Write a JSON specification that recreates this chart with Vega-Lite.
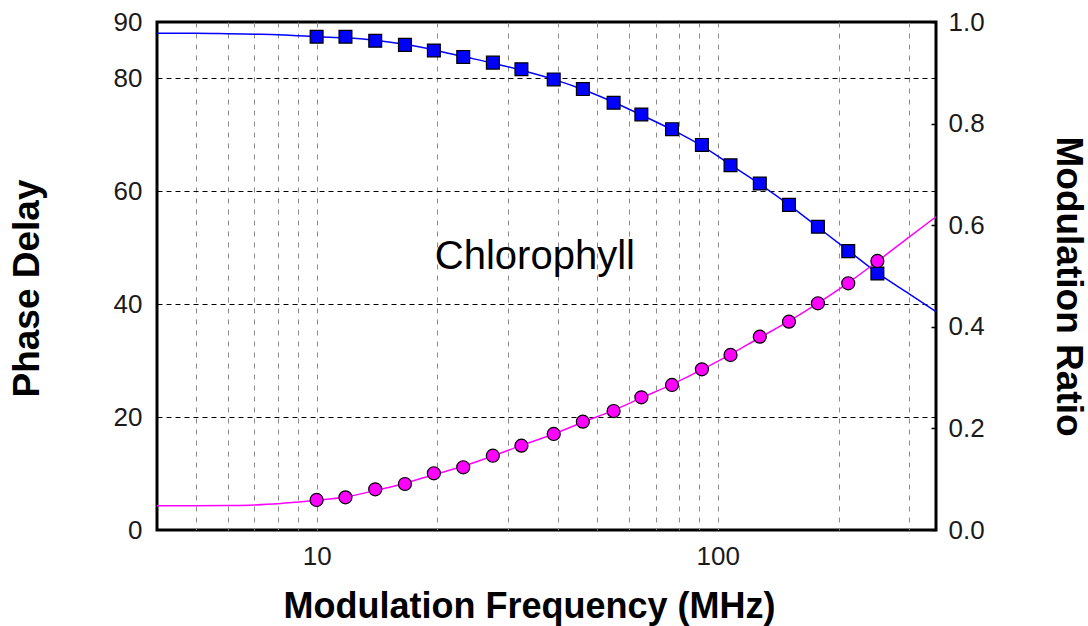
{
  "$schema": "https://vega.github.io/schema/vega-lite/v6.json",
  "width": 779,
  "height": 508,
  "autosize": {"type": "none"},
  "padding": {"left": 157, "top": 22, "right": 152, "bottom": 96},
  "background": "white",
  "config": {
    "view": {"stroke": "black", "strokeWidth": 3},
    "font": "Liberation Sans"
  },
  "datasets": {
    "points": [
      {"f": 10.0, "phase": 5.32, "mod": 0.971},
      {"f": 11.8, "phase": 5.79, "mod": 0.971},
      {"f": 14.0, "phase": 7.21, "mod": 0.963},
      {"f": 16.6, "phase": 8.15, "mod": 0.955},
      {"f": 19.6, "phase": 10.05, "mod": 0.944},
      {"f": 23.2, "phase": 11.11, "mod": 0.931},
      {"f": 27.5, "phase": 13.16, "mod": 0.920},
      {"f": 32.4, "phase": 14.94, "mod": 0.907},
      {"f": 39.0, "phase": 17.01, "mod": 0.887},
      {"f": 46.1, "phase": 19.19, "mod": 0.868},
      {"f": 55.0, "phase": 21.08, "mod": 0.841},
      {"f": 64.5, "phase": 23.51, "mod": 0.818},
      {"f": 76.9, "phase": 25.69, "mod": 0.789},
      {"f": 91.3, "phase": 28.47, "mod": 0.758},
      {"f": 107.6, "phase": 31.01, "mod": 0.718},
      {"f": 127.3, "phase": 34.25, "mod": 0.682},
      {"f": 150.5, "phase": 36.91, "mod": 0.640},
      {"f": 177.7, "phase": 40.17, "mod": 0.597},
      {"f": 211.5, "phase": 43.71, "mod": 0.549},
      {"f": 250.0, "phase": 47.66, "mod": 0.505}
    ],
    "fit": [
      {"f": 4.0, "phase": 4.3, "mod": 0.978},
      {"f": 5.0, "phase": 4.3, "mod": 0.978},
      {"f": 6.0, "phase": 4.35, "mod": 0.977},
      {"f": 7.0, "phase": 4.45, "mod": 0.976},
      {"f": 8.0, "phase": 4.65, "mod": 0.975},
      {"f": 9.0, "phase": 4.95, "mod": 0.973},
      {"f": 10.0, "phase": 5.25, "mod": 0.971},
      {"f": 11.8, "phase": 5.85, "mod": 0.969},
      {"f": 14.0, "phase": 7.0, "mod": 0.964},
      {"f": 16.6, "phase": 8.3, "mod": 0.956},
      {"f": 19.6, "phase": 9.8, "mod": 0.945},
      {"f": 23.2, "phase": 11.3, "mod": 0.932},
      {"f": 27.5, "phase": 13.1, "mod": 0.919},
      {"f": 32.4, "phase": 15.0, "mod": 0.905},
      {"f": 39.0, "phase": 17.0, "mod": 0.887},
      {"f": 46.1, "phase": 19.1, "mod": 0.867},
      {"f": 55.0, "phase": 21.2, "mod": 0.842},
      {"f": 64.5, "phase": 23.4, "mod": 0.817},
      {"f": 76.9, "phase": 25.8, "mod": 0.788},
      {"f": 91.3, "phase": 28.4, "mod": 0.756},
      {"f": 107.6, "phase": 31.1, "mod": 0.719},
      {"f": 127.3, "phase": 34.1, "mod": 0.681},
      {"f": 150.5, "phase": 37.0, "mod": 0.640},
      {"f": 177.7, "phase": 40.2, "mod": 0.596},
      {"f": 211.5, "phase": 43.8, "mod": 0.550},
      {"f": 250.0, "phase": 47.6, "mod": 0.506},
      {"f": 300.0, "phase": 51.9, "mod": 0.465},
      {"f": 350.0, "phase": 55.5, "mod": 0.430}
    ],
    "labels": [
      {"label": "Chlorophyll", "f": 35, "phase": 46.2}
    ]
  },
  "layer": [
    {
      "encoding": {
        "x": {
          "field": "f",
          "type": "quantitative",
          "scale": {"type": "log", "domain": [4, 350], "nice": false},
          "axis": {
            "values": [5, 6, 7, 8, 9, 10, 20, 30, 40, 50, 60, 70, 80, 90, 100, 200, 300],
            "labelExpr": "(datum.value == 10 || datum.value == 100) ? datum.label : ''",
            "format": "d",
            "labelOverlap": false,
            "labelFlush": false,
            "grid": true,
            "gridColor": "#8a8a8a",
            "gridDash": [5, 6],
            "gridWidth": 1,
            "ticks": false,
            "domain": false,
            "labelFontSize": 26,
            "labelColor": "#1a1a1a",
            "labelPadding": 13,
            "title": "Modulation Frequency (MHz)",
            "titleFontSize": 36,
            "titleFontWeight": "bold",
            "titleColor": "black",
            "titleX": 372,
            "titleY": 87,
            "titleAlign": "center",
            "titleBaseline": "alphabetic"
          }
        },
        "y": {
          "field": "mod",
          "type": "quantitative",
          "scale": {"domain": [0, 1], "nice": false},
          "axis": {
            "orient": "right",
            "values": [0, 0.2, 0.4, 0.6, 0.8, 1.0],
            "format": ".1f",
            "grid": false,
            "domain": false,
            "ticks": true,
            "tickSize": -5,
            "tickColor": "black",
            "tickWidth": 1.5,
            "labelFontSize": 26,
            "labelColor": "#1a1a1a",
            "labelPadding": 17,
            "title": "Modulation Ratio",
            "titleFontSize": 37,
            "titleFontWeight": "bold",
            "titleColor": "black",
            "titleAngle": 90,
            "titleX": 131,
            "titleY": 264,
            "titleAlign": "center",
            "titleBaseline": "middle"
          }
        }
      },
      "layer": [
        {
          "data": {"name": "fit"},
          "mark": {"type": "line", "color": "#0000ff", "strokeWidth": 1.5, "interpolate": "monotone"}
        },
        {
          "data": {"name": "points"},
          "mark": {"type": "point", "shape": "square", "filled": true, "fill": "#0000ff", "stroke": "black", "strokeWidth": 1.2, "size": 165, "opacity": 1}
        }
      ]
    },
    {
      "encoding": {
        "x": {
          "field": "f",
          "type": "quantitative",
          "scale": {"type": "log", "domain": [4, 350], "nice": false},
          "axis": {
            "values": [5, 6, 7, 8, 9, 10, 20, 30, 40, 50, 60, 70, 80, 90, 100, 200, 300],
            "labelExpr": "(datum.value == 10 || datum.value == 100) ? datum.label : ''",
            "format": "d",
            "labelOverlap": false,
            "labelFlush": false,
            "grid": true,
            "gridColor": "#8a8a8a",
            "gridDash": [5, 6],
            "gridWidth": 1,
            "ticks": false,
            "domain": false,
            "labelFontSize": 26,
            "labelColor": "#1a1a1a",
            "labelPadding": 13,
            "title": "Modulation Frequency (MHz)",
            "titleFontSize": 36,
            "titleFontWeight": "bold",
            "titleColor": "black",
            "titleX": 372,
            "titleY": 87,
            "titleAlign": "center",
            "titleBaseline": "alphabetic"
          }
        },
        "y": {
          "field": "phase",
          "type": "quantitative",
          "scale": {"domain": [0, 90], "nice": false},
          "axis": {
            "orient": "left",
            "values": [0, 20, 40, 60, 80, 90],
            "grid": true,
            "gridColor": "black",
            "gridDash": [5, 4],
            "gridWidth": 1,
            "domain": false,
            "ticks": false,
            "labelFontSize": 26,
            "labelColor": "#1a1a1a",
            "labelPadding": 15,
            "title": "Phase Delay",
            "titleFontSize": 37,
            "titleFontWeight": "bold",
            "titleColor": "black",
            "titleAngle": 270,
            "titleX": -130,
            "titleY": 266,
            "titleAlign": "center",
            "titleBaseline": "middle"
          }
        }
      },
      "layer": [
        {
          "data": {"name": "fit"},
          "mark": {"type": "line", "color": "#ff00ff", "strokeWidth": 1.5, "interpolate": "monotone"}
        },
        {
          "data": {"name": "points"},
          "mark": {"type": "point", "shape": "circle", "filled": true, "fill": "#ff00ff", "stroke": "black", "strokeWidth": 1.2, "size": 170, "opacity": 1}
        },
        {
          "data": {"name": "labels"},
          "mark": {"type": "text", "fontSize": 40, "font": "Liberation Sans", "color": "black", "align": "center", "baseline": "alphabetic"},
          "encoding": {
            "text": {"field": "label", "type": "nominal"}
          }
        }
      ]
    }
  ],
  "resolve": {"scale": {"y": "independent"}}
}
